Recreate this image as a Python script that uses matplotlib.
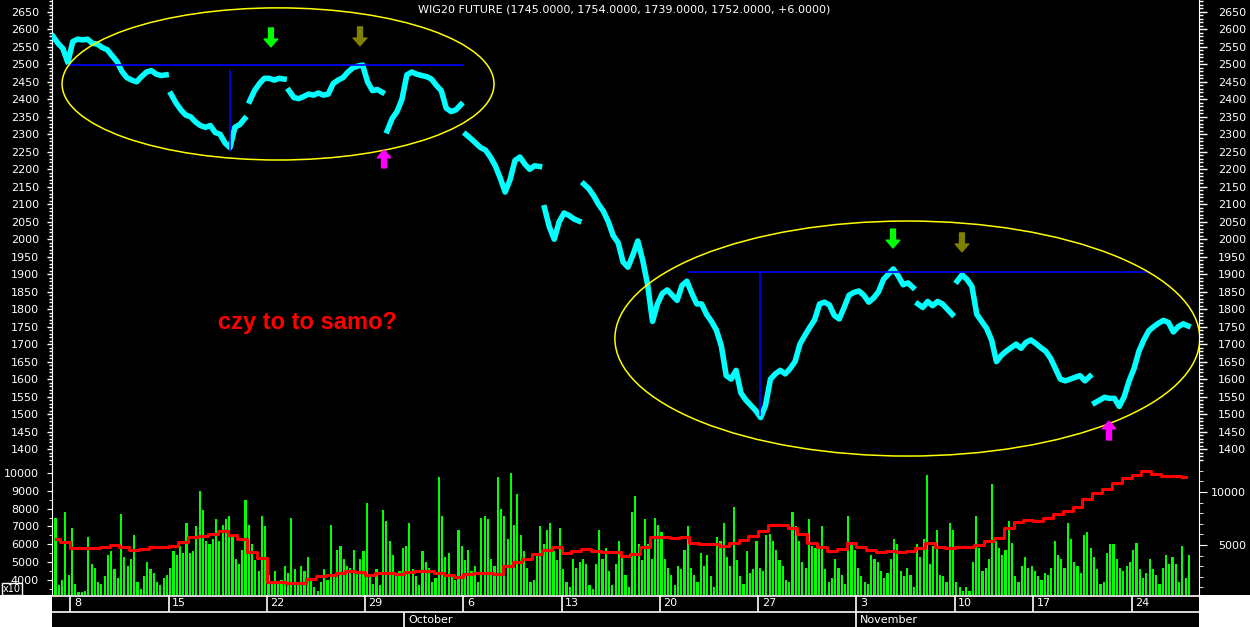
import matplotlib
matplotlib.use('Agg')
import matplotlib.pyplot as plt
from matplotlib.patches import Ellipse, Rectangle
import numpy as np
import pandas as pd

plt.rcParams['font.family'] = ['DejaVu Sans']

# trading days Sep 5 - Nov 26 2008 (Nov 11 is a holiday)
days = pd.bdate_range('2008-09-05', '2008-11-26')
days = days[days != pd.Timestamp('2008-11-11')]

# price, 4 readings per session
close = [
    2580, 2560, 2545, 2505,  2565, 2572, 2570, 2572,  2560, 2558, 2548, 2542,
    2525, 2508, 2480, 2462,  2455, 2450, 2465, 2478,  2482, 2472, 2468, 2470,
    2415, 2390, 2370, 2355,  2350, 2335, 2325, 2320,  2325, 2305, 2300, 2275,
    2262, 2320, 2328, 2345,  2395, 2425, 2445, 2460,  2460, 2455, 2460, 2458,
    2425, 2405, 2402, 2408,  2415, 2412, 2418, 2412,  2415, 2445, 2455, 2462,
    2478, 2490, 2495, 2498,  2450, 2425, 2428, 2420,  2310, 2345, 2365, 2400,
    2470, 2478, 2472, 2468,  2465, 2458, 2440, 2425,  2375, 2365, 2370, 2385,
    2300, 2288, 2275, 2262,  2255, 2235, 2210, 2175,  2135, 2170, 2225, 2235,
    2215, 2200, 2210, 2208,  2090, 2035, 2000, 2050,  2075, 2068, 2058, 2052,
    2158, 2145, 2125, 2100,  2080, 2050, 2010, 1990,  1935, 1920, 1955, 1995,
    1940, 1870, 1765, 1815,  1845, 1855, 1840, 1825,  1868, 1880, 1845, 1815,
    1815, 1785, 1765, 1740,  1695, 1610, 1600, 1625,  1560, 1540, 1525, 1510,
    1490, 1525, 1600, 1615,  1625, 1615, 1630, 1650,  1700, 1725, 1748, 1770,
    1815, 1820, 1812, 1782,  1772, 1805, 1840, 1848,  1852, 1840, 1820, 1832,
    1850, 1885, 1900, 1915,  1895, 1870, 1875, 1862,  1815, 1805, 1822, 1810,
    1822, 1815, 1800, 1785,  1880, 1898, 1885, 1865,  1785, 1765, 1745, 1712,
    1650, 1668, 1680, 1690,  1700, 1688, 1705, 1712,  1702, 1690, 1680, 1660,
    1630, 1600, 1595, 1600,  1605, 1610, 1595, 1608,  1532, 1540, 1548, 1545,
    1545, 1522, 1550, 1595,  1630, 1680, 1712, 1738,  1750, 1760, 1768, 1762,
    1735, 1750, 1758, 1752,
]
# sessions that opened with a price gap
gap_days = [6, 10, 12, 17, 21, 25, 27, 44, 46, 53]

# volume (x10), 6 readings per session
volume = [
    4750, 7500, 3700, 4000, 7800, 4300,  6900, 3800, 3300, 3300, 3400, 6400,
    4900, 4700, 3900, 3800, 4200, 5400,  5600, 4600, 4100, 7700, 5300, 4800,
    5200, 6500, 3900, 3500, 4200, 5000,  4600, 4400, 3900, 3700, 4100, 4300,
    4700, 5600, 5400, 5900, 5500, 7200,  5500, 5600, 7000, 9000, 7900, 6200,
    6000, 6300, 7400, 6200, 7100, 7400,  7600, 6500, 5200, 4900, 5700, 8500,
    7100, 6000, 5100, 4500, 7600, 7000,  4300, 3900, 4500, 3800, 4000, 4800,
    4400, 7500, 4600, 3900, 4800, 4500,  5300, 4000, 3600, 3400, 3900, 4600,
    4000, 7100, 4300, 5700, 5900, 5200,  4800, 4700, 5700, 4500, 5200, 5600,
    8300, 4300, 3800, 4600, 3700, 7900,  7300, 6200, 5400, 4300, 4500, 5800,
    5900, 7200, 4600, 4200, 3700, 5600,  5000, 4700, 3900, 4100, 9800, 7600,
    5300, 5500, 4200, 4000, 6800, 5900,  5100, 5700, 4500, 4800, 3900, 7500,
    7600, 7400, 5200, 4800, 9800, 8000,  7600, 6300, 10000, 7100, 8800, 6500,
    5600, 4700, 3900, 4000, 5500, 7000,  6000, 6800, 7200, 5600, 5100, 6900,
    4600, 3900, 3600, 5200, 4700, 5000,  5200, 4900, 3700, 3500, 4900, 6800,
    5200, 5800, 4500, 3700, 4900, 6200,  5300, 4300, 3600, 7800, 8700, 6000,
    5100, 7400, 6000, 5200, 7500, 7100,  6700, 5200, 4700, 4300, 3700, 4800,
    4600, 5700, 7000, 4700, 4300, 3900,  5500, 4800, 5400, 4200, 3600, 6400,
    6200, 7200, 5300, 4800, 8100, 5100,  4200, 3800, 5600, 4400, 4600, 6200,
    4700, 4500, 6500, 6600, 6200, 5700,  5100, 4800, 4000, 3900, 7800, 7000,
    6200, 5000, 4700, 7400, 5900, 5800,  5900, 7000, 4600, 3900, 4100, 5200,
    4700, 4300, 3800, 7600, 6000, 5700,  4700, 4200, 3900, 3800, 5400, 5200,
    5000, 4500, 4100, 4400, 5200, 6300,  6000, 4500, 4200, 4700, 4300, 3600,
    6000, 5300, 6300, 9900, 4900, 5900,  6800, 4300, 4200, 3900, 7200, 6800,
    3900, 3600, 3400, 3600, 3400, 5000,  7600, 5800, 4500, 4700, 5200, 9400,
    6200, 5800, 5400, 5700, 7300, 6100,  4200, 3900, 4800, 5300, 4700, 4800,
    4500, 4200, 4000, 4400, 4300, 4700,  6200, 5400, 5200, 4700, 7200, 6300,
    5000, 4800, 4400, 6500, 6700, 5800,  5300, 4600, 3800, 3900, 5500, 6000,
    6000, 5200, 4700, 4500, 4800, 5000,  5700, 6100, 4600, 4100, 4400, 5200,
    4600, 4300, 3800, 4700, 5400, 4900,  5300, 4900, 3900, 5900, 4100, 5400,
]

# open interest, 2 readings per session
open_int = [
    5600, 5315, 4750, 4690, 4690, 4840, 5000, 4780, 4560, 4590, 4780, 4840,
    4940, 5315, 5755, 5850, 6005, 6320, 5945, 5565, 4310, 3740, 1540, 1480,
    1385, 1445, 1790, 2105, 2170, 2390, 2515, 2420, 2170, 2325, 2325, 2295,
    2455, 2580, 2545, 2390, 2140, 2015, 2235, 2325, 2325, 2295, 2985, 3395,
    3710, 4120, 4560, 4810, 4275, 4405, 4625, 4435, 4310, 4340, 3995, 4150,
    4780, 5755, 5755, 5690, 5755, 5190, 5095, 5095, 4905, 5220, 5470, 5880,
    6350, 6855, 6885, 6570, 6040, 5220, 4780, 4435, 4590, 5155, 4810, 4530,
    4340, 4465, 4370, 4435, 4685, 5220, 4845, 4715, 4845, 4845, 5000, 5345,
    5630, 6635, 7170, 7325, 7265, 7580, 7925, 8210, 8615, 9340, 9935, 10315,
    10820, 11350, 11635, 11950, 11665, 11510, 11510, 11415,
]

title = 'WIG20 FUTURE (1745.0000, 1754.0000, 1739.0000, 1752.0000, +6.0000)'
note = 'czy to to samo?'

# analyst drawings (session index, price)
ellipses = [(11.57, 2444, 21.98, 435), (43.59, 1716, 29.76, 672)]
hlines = [(2497, 0.9, 21.0), (1907, 32.5, 55.8)]
vlines = [(9.15, 2255, 2481), (36.1, 1497, 1903)]
arrow_x = [11.21, 15.74, 16.96, 42.86, 46.37, 53.85]
arrow_tip = [2550, 2553, 2255, 1975, 1964, 1480]
arrow_tail = [2604, 2607, 2204, 2029, 2018, 1426]
arrow_col = ['#00ff00', '#808000', '#ff00ff', '#00ff00', '#808000', '#ff00ff']

W, H = 1250, 627
fig = plt.figure(figsize=(12.5, 6.27), dpi=100, facecolor='black')


def px_axes(x0, y0, x1, y1):
    return fig.add_axes([x0 / W, 1 - y1 / H, (x1 - x0) / W, (y1 - y0) / H])


ax = px_axes(52, 0, 1199, 462)
axv = px_axes(52, 462, 1199, 595)
axd = px_axes(52, 595, 1199, 627)
xlim = (0.069, 58.43)


def style(a, left=True, right=False):
    a.set_facecolor('black')
    for s in a.spines.values():
        s.set_visible(False)
    a.spines['left'].set_visible(left)
    a.spines['right'].set_visible(right)
    a.spines['left'].set_color('white')
    a.spines['right'].set_color('white')
    a.set_xlim(*xlim)
    a.set_xticks([])


def right_labels(a):
    a.tick_params(axis='y', which='major', length=5.8, pad=28)
    a.tick_params(axis='y', which='minor', length=2.9)
    for t in a.yaxis.get_major_ticks():
        t.label2.set_horizontalalignment('right')


# price panel
style(ax)
axr = ax.twinx()
style(axr, left=False, right=True)
for a in (ax, axr):
    a.set_ylim(1363, 2684)
    a.set_yticks(np.arange(1400, 2651, 50))
    a.set_yticks(np.arange(1370, 2684, 10), minor=True)
    a.tick_params(axis='y', which='both', colors='white', labelsize=8, width=1)
ax.tick_params(axis='y', which='major', length=3.6, pad=5.8)
ax.tick_params(axis='y', which='minor', length=2.2)
right_labels(axr)

xs = np.arange(len(close)) / 4 + 0.125
ys = np.array(close, dtype=float)
cut = [g * 4 for g in gap_days]
xs = np.insert(xs, cut, np.nan)
ys = np.insert(ys, cut, np.nan)
ax.plot(xs, ys, color='#00ffff', lw=4, zorder=3)

for y, x0, x1 in hlines:
    ax.plot([x0, x1], [y, y], color='#0000ff', lw=1.2, zorder=4)
for x, y0, y1 in vlines:
    ax.plot([x, x], [y0, y1], color='#0000ff', lw=1.2, zorder=4)
for cx, cy, w, h in ellipses:
    ax.add_patch(Ellipse((cx, cy), w, h, fill=False, edgecolor='#ffff00', lw=1.1, zorder=5))
for x, tip, tail, c in zip(arrow_x, arrow_tip, arrow_tail, arrow_col):
    ax.annotate('', xy=(x, tip), xytext=(x, tail), zorder=6,
                arrowprops=dict(arrowstyle='simple,head_length=0.8,head_width=1.4,tail_width=0.5',
                                mutation_scale=7, color=c, shrinkA=0, shrinkB=0))

ax.text(8.53, 1763, note, color='#ff0000', fontsize=17, fontweight='bold',
        family=['Liberation Sans', 'DejaVu Sans'], ha='left', va='center', zorder=6)
ax.text(0.4987, 1 - 10 / 462, title, transform=ax.transAxes, color='white',
        fontsize=8, ha='center', va='center')

# volume panel
style(axv)
axv.set_ylim(3158, 10617)
axv.set_yticks(np.arange(4000, 10001, 1000))
axv.set_yticks(np.arange(3500, 10600, 500), minor=True)
axv.tick_params(axis='y', which='both', colors='white', labelsize=8)
axv.tick_params(axis='y', which='major', length=3.6, pad=5.8)
axv.tick_params(axis='y', which='minor', length=2.2)
xv = np.arange(len(volume)) / 6 + 1 / 12
axv.bar(xv, volume, width=0.11, color='#00ff00', linewidth=0)

axo = axv.twinx()
style(axo, left=False, right=True)
axo.set_ylim(283, 12830)
axo.set_yticks([5000, 10000])
axo.set_yticks(np.arange(1000, 12001, 1000), minor=True)
axo.tick_params(axis='y', which='both', colors='white', labelsize=8)
right_labels(axo)
xo = np.arange(len(open_int)) / 2 + 0.25
axo.plot(xo, open_int, color='#ff0000', lw=2.2, drawstyle='steps-mid')

# date strip
style(axd, left=False)
axd.set_ylim(0, 32)
axd.set_yticks([])
axd.axhline(31.5, color='white', lw=1.2)
axd.axhline(15, color='white', lw=1.2)
week_idx = [i for i in range(1, len(days)) if days[i].weekday() < days[i - 1].weekday()]
month_idx = [i for i in range(1, len(days)) if days[i].month != days[i - 1].month]
axd.vlines(week_idx, 15, 32, color='white', lw=1.2)
axd.vlines(month_idx, 0, 15, color='white', lw=1.2)
for i in week_idx:
    axd.annotate(str(days[i].day), (i, 23.5), xytext=(2.5, 0), textcoords='offset points',
                 color='white', fontsize=8, va='center', ha='left')
for i in month_idx:
    axd.annotate(days[i].strftime('%B'), (i, 7.3), xytext=(2.5, 0), textcoords='offset points',
                 color='white', fontsize=8, va='center', ha='left')

fig.patches.append(Rectangle((0, 0), 52 / W, 32 / H, transform=fig.transFigure,
                             facecolor='white', edgecolor='none'))
fig.patches.append(Rectangle((1199 / W, 0), 51 / W, 32 / H, transform=fig.transFigure,
                             facecolor='white', edgecolor='none'))
fig.text(12 / W, 1 - 589 / H, 'x10', color='white', fontsize=7, ha='center', va='center',
         bbox=dict(boxstyle='square,pad=0.15', fc='black', ec='white', lw=1))

fig.savefig('out.png', dpi=100, facecolor='black')
